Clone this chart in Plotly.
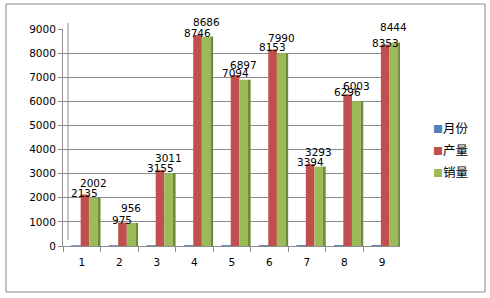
import plotly.graph_objects as go

categories = ["1", "2", "3", "4", "5", "6", "7", "8", "9"]
month_vals = [1, 2, 3, 4, 5, 6, 7, 8, 9]
prod_vals = [2135, 975, 3155, 8746, 7094, 8153, 3394, 6296, 8353]
sales_vals = [2002, 956, 3011, 8686, 6897, 7990, 3293, 6003, 8444]
series_names = ["月份", "产量", "销量"]
y_ticks = [0, 1000, 2000, 3000, 4000, 5000, 6000, 7000, 8000, 9000]

BLUE = "#4F81BD"
RED = "#C0504D"
GREEN = "#9BBB59"
GREEN_SIDE = "#6F8A3A"
GRID = "#8C8C8C"
FONT = "DejaVu Sans"
CJK = "Noto Sans CJK SC"
COLORS = [BLUE, RED, GREEN]

W = 0.23
fig = go.Figure()

# back-wall gridlines on an overlaid axis pair (drawn first, behind bars)
fig.add_trace(go.Scatter(x=[0], y=[0], xaxis="x2", yaxis="y2", mode="markers",
                         marker=dict(opacity=0), showlegend=False, hoverinfo="skip"))

fig.add_trace(go.Bar(x=categories, y=month_vals, name=series_names[0],
                     marker=dict(color=BLUE, line=dict(color=BLUE, width=1.5)),
                     offset=-0.26, width=W, showlegend=False))
fig.add_trace(go.Bar(x=categories, y=prod_vals, name=series_names[1],
                     marker=dict(color=RED, line=dict(width=0)),
                     offset=-0.03, width=W, showlegend=False))
fig.add_trace(go.Bar(x=categories, y=sales_vals, name=series_names[2],
                     marker=dict(color=GREEN, line=dict(width=0)),
                     offset=0.2, width=W, showlegend=False))
fig.add_trace(go.Bar(x=categories, y=sales_vals, name="side",
                     marker=dict(color=GREEN_SIDE, line=dict(width=0)),
                     offset=0.43, width=0.07, showlegend=False, hoverinfo="skip"))

# legend entries: small coloured square drawn as text
for i, (nm, col) in enumerate(zip(series_names, COLORS)):
    fig.add_trace(go.Scatter(
        x=[None], y=[None], mode="markers",
        marker=dict(color="rgba(0,0,0,0)", size=0, line=dict(width=0)),
        name=f'<span style="color:{col};font-size:10px">■</span>{nm}',
        legendgroup=f"g{i}", hoverinfo="skip"))

for i, v in enumerate(prod_vals):
    fig.add_annotation(x=i + 0.085, y=v, text=str(v), showarrow=False, yshift=2,
                       font=dict(family=FONT, size=10.5, color="#000"), xref="x", yref="y")
for i, v in enumerate(sales_vals):
    fig.add_annotation(x=i + 0.315, y=v, text=str(v), showarrow=False, yshift=15,
                       font=dict(family=FONT, size=10.5, color="#000"), xref="x", yref="y")

L, R, T, B = 63, 83, 23, 52
PW = 490 - L - R
PH = 298 - T - B

def px(x):
    return (x - L) / PW

def py(y):
    return (298 - B - y) / PH

fig.update_layout(
    width=490, height=298,
    margin=dict(l=L, r=R, t=T, b=B),
    barmode="overlay",
    paper_bgcolor="white", plot_bgcolor="rgba(0,0,0,0)",
    font=dict(family=FONT, size=10.5, color="#000"),
    xaxis=dict(type="category", domain=[0, px(400)], range=[-0.5, 8.48],
               showline=True, linecolor=GRID, linewidth=1, ticks="outside", ticklen=5,
               tickcolor=GRID, tickson="boundaries", showgrid=False, ticklabelstandoff=6,
               tickfont=dict(family=FONT, size=10.5, color="#000")),
    yaxis=dict(domain=[0, py(29)], range=[0, 9000], tickvals=y_ticks, showgrid=False,
               showline=True, linecolor=GRID, linewidth=1, ticks="outside", ticklen=4,
               tickcolor=GRID, zeroline=False,
               tickfont=dict(family=FONT, size=10.5, color="#000")),
    xaxis2=dict(domain=[px(68), 1], range=[0, 1], visible=False, overlaying="x"),
    yaxis2=dict(domain=[py(240), 1], range=[0, 9000], tickvals=y_ticks, showgrid=True,
                gridcolor=GRID, gridwidth=1, showticklabels=False, zeroline=False,
                anchor="x2", overlaying="y", showline=False),
    legend=dict(x=px(393), y=py(113), xanchor="left", yanchor="top",
                font=dict(family=CJK, size=12.5, color="#000"), tracegroupgap=3,
                itemwidth=30, bgcolor="rgba(0,0,0,0)"),
    showlegend=True,
)

# back-wall left edge and outer chart border
fig.add_shape(type="line", xref="paper", yref="paper", x0=px(68), x1=px(68), y0=py(240), y1=py(23),
              line=dict(color=GRID, width=1), layer="below")
fig.add_shape(type="rect", xref="paper", yref="paper", x0=px(6), x1=px(485), y0=py(292), y1=py(4),
              line=dict(color="#888888", width=1))

fig.write_html("out.html")
